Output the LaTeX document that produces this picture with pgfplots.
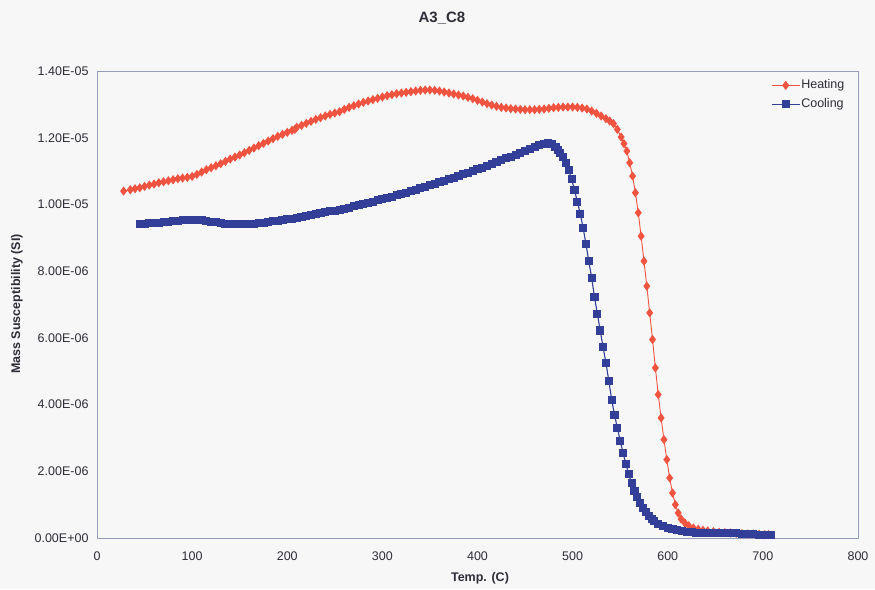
\documentclass[border=0pt]{standalone}
\usepackage{fontspec}
\setmainfont{Liberation Sans}
\usepackage{pgfplots}
\pgfplotsset{compat=1.18}
\definecolor{bg}{RGB}{247,247,247}
\definecolor{heat}{RGB}{240,84,64}
\definecolor{cool}{RGB}{50,62,152}
\definecolor{framec}{RGB}{150,156,188}
\definecolor{txt}{RGB}{45,45,55}
\begin{document}
\begin{tikzpicture}[x=1pt,y=1pt]
\fill[bg] (0,0) rectangle (875,589);
\node[font=\fontsize{15}{17}\selectfont\bfseries, text=txt] at (442,571) {A3\_C8};
\node[font=\fontsize{12.5}{14}\selectfont\bfseries, text=txt] at (480,11) {Temp. (C)};
\node[font=\fontsize{12.5}{14}\selectfont\bfseries, text=txt, rotate=90] at (17,285) {Mass Susceptibility (SI)};
\begin{axis}[
  at={(97pt,51pt)}, anchor=south west, scale only axis,
  width=761pt, height=467pt,
  xmin=0, xmax=800, ymin=0, ymax=1.4e-5,
  xtick={0,100,200,300,400,500,600,700,800},
  ytick={0,2e-6,4e-6,6e-6,8e-6,1e-5,1.2e-5,1.4e-5},
  yticklabels={0.00E+00,2.00E-06,4.00E-06,6.00E-06,8.00E-06,1.00E-05,1.20E-05,1.40E-05},
  scaled y ticks=false,
  major tick length=0pt,
  axis line style={framec, line width=0.8pt},
  /pgf/number format/assume math mode=true,
  tick label style={font=\fontsize{12.5}{14}\selectfont, text=txt},
  xticklabel style={yshift=-10pt},
  yticklabel style={xshift=-5pt},
  legend style={at={(0.8817,0.989)}, anchor=north west, draw=none, fill=none,
    font=\fontsize{12.5}{14}\selectfont, text=txt,
    nodes={inner sep=1pt, text height=9pt, text depth=3pt}, row sep=5pt},
  legend cell align=left,
  legend image code/.code={\draw[mark repeat=2,mark phase=2,#1] plot coordinates {(0pt,0pt) (14pt,0pt) (28pt,0pt)};},
]
\addplot[heat, line width=0.9pt, mark=diamond*, mark size=3.9pt, mark options={fill=heat, draw=heat}] coordinates {
(28,10.40e-6)(35,10.44e-6)(40,10.47e-6)(45,10.50e-6)(50,10.54e-6)(55,10.58e-6)(60,10.61e-6)(65,10.65e-6)
(70,10.68e-6)(75,10.71e-6)(80,10.74e-6)(85,10.77e-6)(90,10.79e-6)(95,10.81e-6)(100,10.84e-6)(105,10.90e-6)
(110,10.97e-6)(115,11.04e-6)(120,11.10e-6)(125,11.16e-6)(130,11.22e-6)(135,11.29e-6)(140,11.36e-6)(145,11.42e-6)
(150,11.48e-6)(155,11.55e-6)(160,11.62e-6)(165,11.69e-6)(170,11.76e-6)(175,11.83e-6)(180,11.90e-6)(185,11.97e-6)
(190,12.04e-6)(195,12.10e-6)(200,12.16e-6)(205,12.22e-6)(208,12.25e-6)(210,12.31e-6)(215,12.37e-6)(220,12.43e-6)
(225,12.49e-6)(230,12.55e-6)(235,12.60e-6)(240,12.65e-6)(245,12.70e-6)(250,12.74e-6)(255,12.78e-6)(260,12.85e-6)
(265,12.91e-6)(270,12.96e-6)(275,13.01e-6)(280,13.06e-6)(285,13.10e-6)(290,13.14e-6)(295,13.18e-6)(300,13.22e-6)
(305,13.26e-6)(310,13.29e-6)(315,13.32e-6)(320,13.34e-6)(325,13.36e-6)(330,13.38e-6)(335,13.40e-6)(340,13.42e-6)
(345,13.43e-6)(350,13.43e-6)(355,13.42e-6)(360,13.40e-6)(365,13.37e-6)(370,13.34e-6)(375,13.31e-6)(380,13.28e-6)
(385,13.25e-6)(390,13.21e-6)(395,13.17e-6)(400,13.12e-6)(405,13.07e-6)(410,13.02e-6)(415,12.98e-6)(420,12.94e-6)
(425,12.91e-6)(430,12.89e-6)(435,12.87e-6)(440,12.86e-6)(445,12.85e-6)(450,12.84e-6)(455,12.84e-6)(460,12.84e-6)
(465,12.85e-6)(470,12.86e-6)(475,12.88e-6)(480,12.90e-6)(485,12.91e-6)(490,12.92e-6)(495,12.92e-6)(500,12.92e-6)
(505,12.91e-6)(510,12.89e-6)(515,12.86e-6)(520,12.80e-6)(525,12.73e-6)(530,12.65e-6)(535,12.57e-6)(539,12.50e-6)
(543,12.42e-6)(547,12.25e-6)(551,12.02e-6)(554,11.82e-6)(557,11.60e-6)(560,11.25e-6)(563,10.85e-6)(566,10.35e-6)
(569,9.75e-6)(572,9.05e-6)(575,8.30e-6)(578,7.55e-6)(581,6.75e-6)(584,5.95e-6)(587,5.10e-6)(590,4.30e-6)
(593,3.60e-6)(596,2.95e-6)(599,2.35e-6)(602,1.80e-6)(605,1.35e-6)(608,1.00e-6)(611,0.75e-6)(614,0.57e-6)
(618,0.45e-6)(622,0.37e-6)(627,0.30e-6)(632,0.26e-6)(637,0.23e-6)(642,0.21e-6)(648,0.19e-6)(654,0.17e-6)
(660,0.16e-6)(666,0.15e-6)(672,0.14e-6)(678,0.13e-6)(684,0.12e-6)(690,0.12e-6)(696,0.11e-6)(702,0.10e-6)(706,0.10e-6)
};
\addlegendentry{Heating}
\addplot[cool, line width=1.1pt, mark=square*, mark size=3.5pt, mark options={fill=cool, draw=cool}] coordinates {
(45,9.42e-6)(50,9.42e-6)(55,9.43e-6)(60,9.44e-6)(65,9.45e-6)(70,9.46e-6)(75,9.47e-6)(80,9.49e-6)
(85,9.50e-6)(90,9.52e-6)(95,9.53e-6)(100,9.53e-6)(105,9.53e-6)(110,9.52e-6)(115,9.50e-6)(120,9.48e-6)
(125,9.46e-6)(130,9.44e-6)(135,9.42e-6)(140,9.41e-6)(145,9.40e-6)(150,9.40e-6)(155,9.40e-6)(160,9.41e-6)
(165,9.42e-6)(170,9.43e-6)(175,9.45e-6)(180,9.47e-6)(185,9.49e-6)(190,9.51e-6)(195,9.53e-6)(200,9.55e-6)
(205,9.57e-6)(210,9.60e-6)(215,9.63e-6)(220,9.66e-6)(225,9.69e-6)(230,9.72e-6)(235,9.75e-6)(240,9.77e-6)
(245,9.79e-6)(250,9.81e-6)(255,9.84e-6)(260,9.87e-6)(265,9.90e-6)(270,9.94e-6)(275,9.97e-6)(280,10.01e-6)
(285,10.04e-6)(290,10.08e-6)(295,10.12e-6)(300,10.16e-6)(305,10.19e-6)(310,10.23e-6)(315,10.27e-6)(320,10.31e-6)
(325,10.35e-6)(330,10.39e-6)(335,10.43e-6)(340,10.48e-6)(345,10.52e-6)(350,10.57e-6)(355,10.61e-6)(360,10.66e-6)
(365,10.70e-6)(370,10.75e-6)(375,10.80e-6)(380,10.85e-6)(385,10.90e-6)(390,10.95e-6)(395,11.00e-6)(400,11.05e-6)
(405,11.10e-6)(410,11.16e-6)(415,11.21e-6)(420,11.27e-6)(425,11.32e-6)(430,11.38e-6)(435,11.43e-6)(440,11.49e-6)
(445,11.54e-6)(450,11.60e-6)(455,11.65e-6)(460,11.71e-6)(465,11.77e-6)(470,11.82e-6)(474,11.84e-6)(478,11.82e-6)
(482,11.72e-6)(485,11.62e-6)(487,11.55e-6)(490,11.42e-6)(493,11.25e-6)(496,11.02e-6)(499,10.75e-6)(502,10.42e-6)
(505,10.08e-6)(508,9.72e-6)(511,9.30e-6)(514,8.82e-6)(517,8.30e-6)(520,7.80e-6)(523,7.22e-6)(526,6.72e-6)
(529,6.22e-6)(532,5.72e-6)(535,5.25e-6)(538,4.72e-6)(541,4.15e-6)(544,3.70e-6)(547,3.30e-6)(550,2.92e-6)
(553,2.55e-6)(556,2.22e-6)(559,1.92e-6)(562,1.65e-6)(565,1.42e-6)(568,1.22e-6)(571,1.05e-6)(574,0.90e-6)
(577,0.77e-6)(580,0.66e-6)(583,0.57e-6)(586,0.50e-6)(590,0.42e-6)(595,0.35e-6)(600,0.30e-6)(605,0.26e-6)
(610,0.23e-6)(615,0.21e-6)(620,0.19e-6)(625,0.17e-6)(630,0.16e-6)(636,0.15e-6)(642,0.15e-6)(648,0.14e-6)
(654,0.14e-6)(660,0.14e-6)(666,0.15e-6)(672,0.14e-6)(678,0.12e-6)(684,0.11e-6)(690,0.11e-6)(696,0.10e-6)
(702,0.10e-6)(709,0.09e-6)
};
\addlegendentry{Cooling}
\end{axis}
\end{tikzpicture}
\end{document}
